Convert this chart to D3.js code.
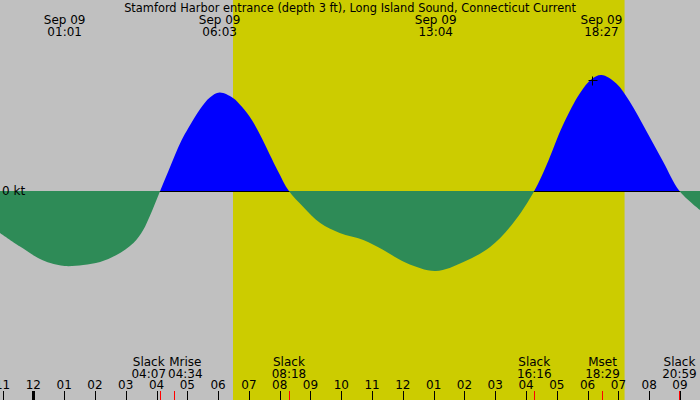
<!DOCTYPE html>
<html>
<head>
<meta charset="utf-8">
<script src="https://cdn.jsdelivr.net/npm/d3@7"></script>
<style>
  body { margin: 0; background: #fff; }
  svg { display: block; font-family: "DejaVu Sans", sans-serif; }
</style>
</head>
<body>
<svg width="700" height="400"></svg>
<script>
const width = 700;
const height = 400;

const title = "Stamford Harbor entrance (depth 3 ft), Long Island Sound, Connecticut Current";

// tidal current, knots (+ flood, - ebb)
const flowTimes = [
    "2024-09-08 22:55", "2024-09-08 23:34", "2024-09-09 00:13", "2024-09-09 00:33",
    "2024-09-09 01:01", "2024-09-09 01:37", "2024-09-09 02:10", "2024-09-09 02:42",
    "2024-09-09 03:15", "2024-09-09 03:34", "2024-09-09 03:47", "2024-09-09 04:07",
    "2024-09-09 04:23", "2024-09-09 04:36", "2024-09-09 04:49", "2024-09-09 05:02",
    "2024-09-09 05:25", "2024-09-09 05:44", "2024-09-09 06:03", "2024-09-09 06:29",
    "2024-09-09 06:46", "2024-09-09 07:07", "2024-09-09 07:25", "2024-09-09 07:41",
    "2024-09-09 07:57", "2024-09-09 08:18", "2024-09-09 08:46", "2024-09-09 09:19",
    "2024-09-09 09:57", "2024-09-09 10:43", "2024-09-09 11:22", "2024-09-09 12:07",
    "2024-09-09 13:04", "2024-09-09 13:58", "2024-09-09 14:50", "2024-09-09 15:35",
    "2024-09-09 16:16", "2024-09-09 16:40", "2024-09-09 17:12", "2024-09-09 17:45",
    "2024-09-09 18:08", "2024-09-09 18:27", "2024-09-09 18:56", "2024-09-09 19:22",
    "2024-09-09 19:55", "2024-09-09 20:27", "2024-09-09 20:59", "2024-09-09 21:39",
];
const flowKnots = [
    -0.21, -0.278, -0.34, -0.36,
    -0.375, -0.37, -0.355, -0.32,
    -0.26, -0.195, -0.125, 0,
    0.0985, 0.18, 0.255, 0.315,
    0.41, 0.468, 0.4925, 0.465,
    0.422, 0.35, 0.265, 0.18,
    0.098, 0, -0.08, -0.16,
    -0.21, -0.245, -0.295, -0.36,
    -0.40, -0.355, -0.28, -0.16,
    0, 0.13, 0.33, 0.489,
    0.56, 0.58, 0.538, 0.447,
    0.297, 0.147, 0, -0.095,
];

// max flood / ebb labels on top
const peakTimes = ["2024-09-09 01:01", "2024-09-09 06:03", "2024-09-09 13:04", "2024-09-09 18:27"];
const peakDate = "Sep 09";

// slack water and moon events on bottom
const eventNames = ["Slack", "Mrise", "Slack", "Slack", "Mset", "Slack"];
const eventTimes = [
    "2024-09-09 04:07", "2024-09-09 04:34", "2024-09-09 08:18",
    "2024-09-09 16:16", "2024-09-09 18:29", "2024-09-09 20:59",
];

const sunrise = "2024-09-09 06:29";
const sunset = "2024-09-09 19:12";

// current time marker
const nowTime = "2024-09-09 18:08";
const nowKnots = 0.556;

const startTime = "2024-09-08 22:55";
const endTime = "2024-09-09 21:39";

const parse = d3.timeParse("%Y-%m-%d %H:%M");
const fmtHM = d3.timeFormat("%H:%M");

const data = flowTimes.map((t, i) => ({ t: parse(t), v: flowKnots[i] }));

const x = d3.scaleTime()
    .domain([parse(startTime), parse(endTime)])
    .range([0, width]);

const y = d3.scaleLinear()
    .domain([-1, 1])
    .range([391, -9]);

const svg = d3.select("svg");

// night / day background
svg.append("rect")
    .attr("width", width).attr("height", height)
    .attr("fill", "#c0c0c0");
svg.append("rect")
    .attr("x", x(parse(sunrise)))
    .attr("width", x(parse(sunset)) - x(parse(sunrise)))
    .attr("height", height)
    .attr("fill", "#cccc00");

const defs = svg.append("defs");
defs.append("clipPath").attr("id", "above")
    .append("rect").attr("width", width).attr("height", y(0));
defs.append("clipPath").attr("id", "below")
    .append("rect").attr("y", y(0)).attr("width", width).attr("height", height - y(0));

const area = d3.area()
    .x((d) => x(d.t))
    .y0(y(0))
    .y1((d) => y(d.v))
    .curve(d3.curveCatmullRom.alpha(0.5));

svg.append("path")
    .datum(data)
    .attr("clip-path", "url(#above)")
    .attr("fill", "#0000ff")
    .attr("d", area);

// zero line
svg.append("line")
    .attr("x1", 0).attr("x2", width)
    .attr("y1", y(0) + 0.5).attr("y2", y(0) + 0.5)
    .attr("stroke", "#000");

svg.append("path")
    .datum(data)
    .attr("clip-path", "url(#below)")
    .attr("fill", "#2e8b57")
    .attr("d", area);

svg.append("text")
    .attr("x", 2).attr("y", y(0) + 4)
    .attr("font-size", 12)
    .text("0 kt");

// now marker
const nx = Math.round(x(parse(nowTime))) + 0.5;
const ny = Math.round(y(nowKnots)) + 0.5;
svg.append("path")
    .attr("d", `M${nx - 4},${ny}H${nx + 5}M${nx},${ny - 4}V${ny + 5}`)
    .attr("stroke", "#000");

// title
svg.append("text")
    .attr("x", width / 2).attr("y", 12)
    .attr("text-anchor", "middle")
    .attr("font-size", 11.4)
    .text(title);

// peak labels
const peaks = svg.append("g")
    .selectAll("text")
    .data(peakTimes)
    .join("text")
    .attr("text-anchor", "middle")
    .attr("font-size", 12);
peaks.append("tspan")
    .attr("x", (d) => x(parse(d))).attr("y", 24)
    .text(peakDate);
peaks.append("tspan")
    .attr("x", (d) => x(parse(d))).attr("y", 36)
    .text((d) => fmtHM(parse(d)));

// hour axis
const hours = d3.timeHour.every(1).range(x.domain()[0], x.domain()[1]);
const axis = svg.append("g");
axis.selectAll("line")
    .data(hours)
    .join("line")
    .attr("x1", (d) => Math.round(x(d)) + 0.5)
    .attr("x2", (d) => Math.round(x(d)) + 0.5)
    .attr("y1", 391).attr("y2", height)
    .attr("stroke", "#000")
    .attr("stroke-width", (d) => (d.getHours() === 0 ? 3 : 1));
axis.selectAll("text")
    .data(hours)
    .join("text")
    .attr("x", (d) => x(d))
    .attr("y", 389)
    .attr("text-anchor", "middle")
    .attr("font-size", 12)
    .text(d3.timeFormat("%I"));

// events
const events = eventNames.map((name, i) => ({ name, t: parse(eventTimes[i]) }));
svg.append("g")
    .selectAll("line")
    .data(events)
    .join("line")
    .attr("x1", (d) => Math.round(x(d.t)) + 0.5)
    .attr("x2", (d) => Math.round(x(d.t)) + 0.5)
    .attr("y1", 391).attr("y2", height)
    .attr("stroke", "#ff0000");

const evLabels = svg.append("g")
    .selectAll("text")
    .data(events)
    .join("text")
    .attr("text-anchor", "middle")
    .attr("font-size", 12);
evLabels.append("tspan").attr("x", (d) => x(d.t)).attr("y", 366).text((d) => d.name);
evLabels.append("tspan").attr("x", (d) => x(d.t)).attr("y", 378).text((d) => fmtHM(d.t));

// push overlapping labels apart
evLabels.each(function (d) {
    d.cx = x(d.t);
    d.w = this.getBBox().width;
});
for (let i = 1; i < events.length; i++) {
    const a = events[i - 1], b = events[i];
    const need = (a.w + b.w) / 2 + 2;
    const gap = b.cx - a.cx;
    if (gap < need) {
        const shift = (need - gap) / 2;
        a.cx -= shift;
        b.cx += shift;
    }
}
evLabels.selectAll("tspan").attr("x", function () {
    return d3.select(this.parentNode).datum().cx;
});
</script>
</body>
</html>
